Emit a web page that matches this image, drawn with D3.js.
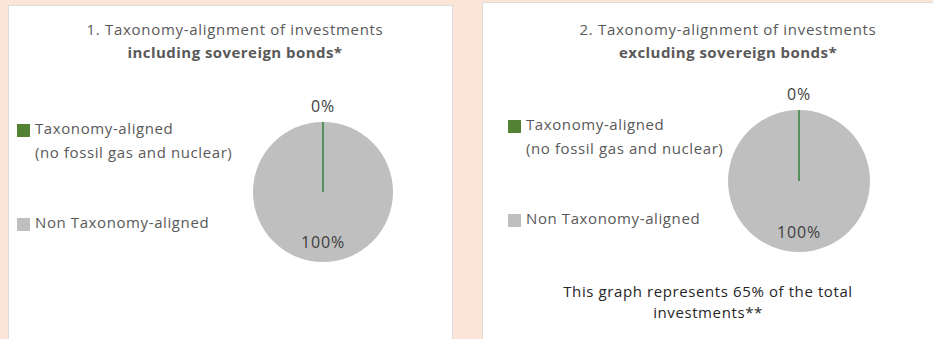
<!DOCTYPE html>
<html>
<head>
<meta charset="utf-8">
<script src="https://cdn.jsdelivr.net/npm/d3@7"></script>
<style>
  html, body { margin: 0; padding: 0; background: #fbe5d6; }
  svg { display: block; }
  text { font-family: "Open Sans", "DejaVu Sans", sans-serif; }
</style>
</head>
<body>
<svg id="chart" width="933" height="339"></svg>
<script>
// ---- data ----
const categories = ["Taxonomy-aligned (no fossil gas and nuclear)", "Non Taxonomy-aligned"];
const legendLines = [["Taxonomy-aligned", "(no fossil gas and nuclear)"], ["Non Taxonomy-aligned"]];
const chart1Values = [0, 100];
const chart2Values = [0, 100];
const chart1Title = ["1. Taxonomy-alignment of investments", "including sovereign bonds*"];
const chart2Title = ["2. Taxonomy-alignment of investments", "excluding sovereign bonds*"];
const chart2Note = ["This graph represents 65% of the total", "investments**"];
const colors = ["#548235", "#bfbfbf"];

// ---- layout ----
const svg = d3.select("#chart");
const panels = [
  { x: 8.5, y: 5.5, w: 444, h: 340, values: chart1Values, title: chart1Title, note: null,
    cx: 323, cy: 192, r: 70, legendX: 17, legendY: 123, titleX: 235 },
  { x: 482.5, y: 2.5, w: 460, h: 345, values: chart2Values, title: chart2Title, note: chart2Note,
    cx: 799, cy: 181, r: 71, legendX: 508, legendY: 119, titleX: 728 }
];

const pie = d3.pie().sort(null).value(d => d);
const color = d3.scaleOrdinal().domain(categories).range(colors);

panels.forEach(p => {
  svg.append("rect")
    .attr("x", p.x).attr("y", p.y).attr("width", p.w).attr("height", p.h)
    .attr("fill", "#ffffff").attr("stroke", "#dcdcdc").attr("stroke-width", 1);

  // title
  const t = svg.append("g");
  t.append("text").attr("x", p.titleX).attr("y", 35).attr("text-anchor", "middle")
    .attr("font-size", 15).attr("letter-spacing", 0.7).attr("fill", "#595959").text(p.title[0]);
  t.append("text").attr("x", p.titleX).attr("y", 58).attr("text-anchor", "middle")
    .attr("font-size", 15).attr("letter-spacing", 0.45).attr("font-weight", "bold").attr("fill", "#595959").text(p.title[1]);

  // pie
  const arcs = pie(p.values.map((v, i) => v));
  const arc = d3.arc().innerRadius(0).outerRadius(p.r);
  const g = svg.append("g").attr("transform", `translate(${p.cx},${p.cy})`);
  g.selectAll("path.slice")
    .data(arcs.slice().reverse())
    .join("path")
    .attr("class", "slice")
    .attr("d", arc)
    .attr("fill", (d) => color(categories[d.index]))
    .attr("stroke", d => d.index === 0 ? "#548f5e" : "none")
    .attr("stroke-width", d => d.index === 0 ? 2 : 0);

  // data labels
  g.append("text").attr("x", 0).attr("y", -p.r - 10).attr("text-anchor", "middle")
    .attr("font-size", 16).attr("letter-spacing", 0.8).attr("fill", "#404040").text(d3.format(".0f")(p.values[0]) + "%");
  g.append("text").attr("x", 0).attr("y", p.r - 14).attr("text-anchor", "middle")
    .attr("font-size", 16).attr("letter-spacing", 0.8).attr("fill", "#404040").text(d3.format(".0f")(p.values[1]) + "%");

  // legend
  const lg = svg.append("g").attr("transform", `translate(${p.legendX},${p.legendY})`);
  const offsets = [0, 94];
  legendLines.forEach((lines, i) => {
    const item = lg.append("g").attr("transform", `translate(0,${offsets[i]})`);
    item.append("rect").attr("x", 0).attr("y", 1).attr("width", 13).attr("height", 13)
      .attr("fill", colors[i]);
    lines.forEach((ln, j) => {
      item.append("text").attr("x", 18).attr("y", 11 + j * 24)
        .attr("font-size", 15).attr("letter-spacing", 0.6).attr("fill", "#595959").text(ln);
    });
  });

  if (p.note) {
    svg.append("text").attr("x", 708).attr("y", 297).attr("text-anchor", "middle")
      .attr("font-size", 15).attr("letter-spacing", 0.6).attr("fill", "#262626").text(p.note[0]);
    svg.append("text").attr("x", 708).attr("y", 318).attr("text-anchor", "middle")
      .attr("font-size", 15).attr("letter-spacing", 0.6).attr("fill", "#262626").text(p.note[1]);
  }
});
</script>
</body>
</html>
